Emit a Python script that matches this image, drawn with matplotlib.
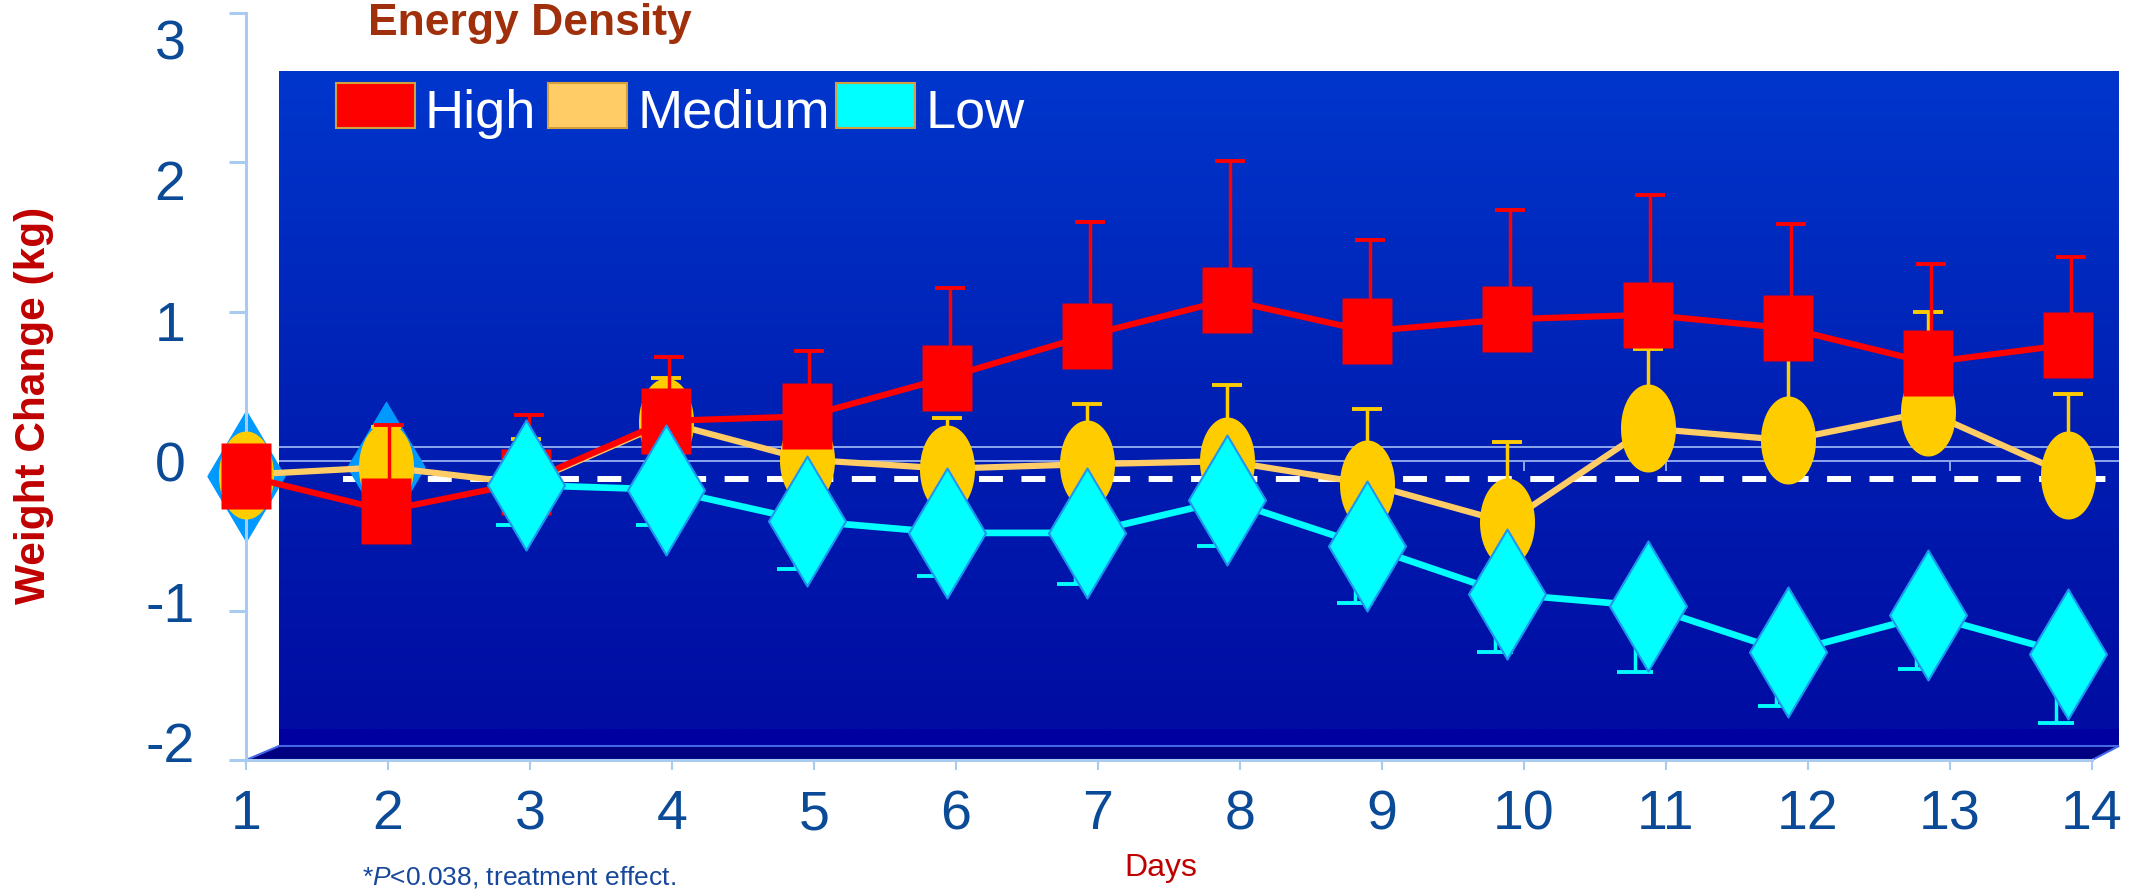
import numpy as np
import matplotlib.pyplot as plt
import matplotlib.transforms as mtransforms
from matplotlib.colors import LinearSegmentedColormap
from matplotlib.patches import Rectangle, Polygon
from matplotlib.path import Path

plt.rcParams['font.family'] = ['Liberation Sans', 'DejaVu Sans']
plt.rcParams['mathtext.fontset'] = 'custom'
plt.rcParams['mathtext.it'] = 'Liberation Sans:italic'
plt.rcParams['mathtext.rm'] = 'Liberation Sans'

# weight change (kg) by day, mean and one-sided error bars
days = np.arange(1, 15)
high = np.array([-0.10, -0.33, -0.14, 0.27, 0.30, 0.56, 0.84, 1.08, 0.87, 0.95, 0.98, 0.89, 0.66, 0.78])
high_err = np.array([0, 0.57, 0.45, 0.43, 0.44, 0.60, 0.76, 0.93, 0.61, 0.73, 0.80, 0.70, 0.66, 0.59])
medium = np.array([-0.09, -0.04, -0.15, 0.26, 0.01, -0.05, -0.02, 0.00, -0.15, -0.41, 0.22, 0.14, 0.33, -0.09])
medium_err = np.array([0, 0.27, 0.30, 0.30, 0.30, 0.34, 0.40, 0.51, 0.50, 0.54, 0.53, 0.71, 0.67, 0.54])
low = np.array([-0.10, -0.04, -0.16, -0.19, -0.40, -0.48, -0.48, -0.26, -0.57, -0.89, -0.97, -1.28, -1.03, -1.29])
low_err = np.array([0, 0, 0.27, 0.24, 0.32, 0.29, 0.34, 0.31, 0.38, 0.39, 0.44, 0.36, 0.36, 0.46])
baseline = -0.12
y_ticks = [-2, -1, 0, 1, 2, 3]
labels = ['High', 'Medium', 'Low']
colors = ['#FF0000', '#FFCC66', '#00FFFF']

W, H = 2136, 893
fig = plt.figure(figsize=(W / 100, H / 100), dpi=100)
ax = fig.add_axes([246 / W, 1 - 760 / H, (2092 - 246) / W, (760 - 13) / H])


# pixel -> data helpers for the pseudo-3D wall and floor
def dx(X):
    return 1 + (X - 246) / 142.0


def dy(Y):
    return (760 - Y) / 149.4 - 2


# series sit on the data plane, which is a touch narrower than the floor axis
plane = 0.987
xs = 1 + (days - 1) * plane

# back wall with vertical gradient
grad = np.linspace(0, 1, 256)[:, None]
wall = LinearSegmentedColormap.from_list('wall', ['#0036CC', '#0020B4', '#000CA2'])
ax.imshow(grad, extent=[dx(279), dx(2119), dy(729), dy(71)], cmap=wall,
          aspect='auto', origin='upper', zorder=0, clip_on=False)
ax.add_patch(Rectangle((dx(279), dy(746)), dx(2119) - dx(279), dy(729) - dy(746),
                       color='#0000A0', lw=0, zorder=0.1, clip_on=False))
floor = [(dx(246), dy(760)), (dx(279), dy(746)), (dx(2119), dy(746)), (dx(2092), dy(760))]
ax.add_patch(Polygon(floor, closed=True, facecolor='#000080', edgecolor='#4468E4',
                     lw=1.5, zorder=0.2, clip_on=False))

# wall gridlines at zero
ax.hlines([dy(447.4), 0], dx(279), dx(2119), color='#8CA6EE', lw=1.4, zorder=1, clip_on=False)
ax.vlines(days, -0.067, 0, color='#8CA6EE', lw=1.4, zorder=1)
ax.plot([dx(343), dx(2113)], [baseline, baseline], color='white', lw=4.3,
        ls=(0, (4, 3.1)), solid_capstyle='butt', dash_capstyle='butt', zorder=2, clip_on=False)


def closed(v):
    v = np.asarray(v, float)
    return Path(np.vstack([v, v[:1]]), closed=True)


square = closed([(-25, -33), (25, -33), (25, 33), (-25, 33)])
t = np.linspace(0, 2 * np.pi, 72, endpoint=False)
ellipse = closed(np.column_stack([27.5 * np.cos(t), 44 * np.sin(t)]))
diamond = closed([(0, -65), (38.5, 0), (0, 65), (-38.5, 0)])


def err_bars(x, y, err, up, color, cap, z):
    m = err > 0
    zero = np.zeros(m.sum())
    yerr = [zero, err[m]] if up else [err[m], zero]
    eb = ax.errorbar(x[m], y[m], yerr=yerr, fmt='none', ecolor=color, elinewidth=2.5,
                     capsize=cap, capthick=2.8, zorder=z)
    for a in eb.lines[1] + eb.lines[2]:
        a.set_clip_on(False)


# low series, first two days drawn behind everything
ax.plot(xs[:2], low[:2], ls='none', marker=diamond, ms=93.6, mfc='#0099FF',
        mec='#0099FF', mew=1, zorder=2.5, clip_on=False)

# medium
err_bars(xs, medium, medium_err, True, '#FFCC00', 11, 3)
ax.plot(xs, medium, color='#FFCC66', lw=4.5, zorder=3.5, clip_on=False)
ax.plot(xs, medium, ls='none', marker=ellipse, ms=63.4, mfc='#FFCC00', mec='none',
        zorder=4, clip_on=False)

# high
err_bars(xs + 0.02, high, high_err, True, '#FF0000', 11, 5)
ax.plot(xs, high, color='#FF0000', lw=4.5, zorder=5.5, clip_on=False)
ax.plot(xs, high, ls='none', marker=square, ms=47.5, mfc='#FF0000', mec='none',
        zorder=6, clip_on=False)

# low
err_bars(xs - 0.085, low, low_err, False, '#00FFFF', 13, 7)
ax.plot(xs[2:], low[2:], color='#00FFFF', lw=4.8, zorder=7.5, clip_on=False)
ax.plot(xs[2:], low[2:], ls='none', marker=diamond, ms=93.6, mfc='#00FFFF',
        mec='#1E96F0', mew=1.5, zorder=8, clip_on=False)

ax.set_xlim(1, 14)
ax.set_ylim(-2, 3)
ax.set_xticks(days)
ax.set_yticks(y_ticks)
ax.set_yticklabels([])
for s in ['top', 'right']:
    ax.spines[s].set_visible(False)
for s in ['left', 'bottom']:
    ax.spines[s].set_color('#A9CBF0')
    ax.spines[s].set_linewidth(2.2)
ax.tick_params(axis='y', length=12, width=2.2, color='#A9CBF0')
ax.tick_params(axis='x', length=7, width=1.5, color='#A9CBF0', labelsize=40,
               labelcolor='#0B4A96', pad=14)
ax.patch.set_visible(False)

# y labels sit on a slightly compressed scale
lab_tr = mtransforms.blended_transform_factory(ax.transAxes, ax.transData)
for v in y_ticks:
    ax.text(-76 / 1846, v * 0.941, str(v), transform=lab_tr, ha='center',
            va='center_baseline', fontsize=40, color='#0B4A96', clip_on=False)

# legend
for x0, lab, c in zip([336, 548, 836], labels, colors):
    fig.add_artist(Rectangle((x0 / W, 1 - 128 / H), 79 / W, 45 / H, facecolor=c,
                             edgecolor='#D4A03C', lw=1.5, transform=fig.transFigure))
    fig.text((x0 + 89) / W, 1 - 128 / H, lab, fontsize=39, color='white',
             ha='left', va='baseline')

fig.text(530 / W, 1 - 24 / H, 'Energy Density', fontsize=32, weight='bold',
         color='#A0300C', ha='center', va='center')
fig.text(34 / W, 1 - 405 / H, 'Weight Change (kg)', rotation=90, fontsize=30.5,
         weight='bold', color='#C00000', ha='center', va='center')
fig.text(1161 / W, 1 - 868 / H, 'Days', fontsize=23, color='#C00000',
         ha='center', va='center')
fig.text(362 / W, 1 - 884 / H, r'*$\mathit{P}$<0.038, treatment effect.', fontsize=19,
         color='#17479B', ha='left', va='baseline')

fig.savefig('out.png', dpi=100)
